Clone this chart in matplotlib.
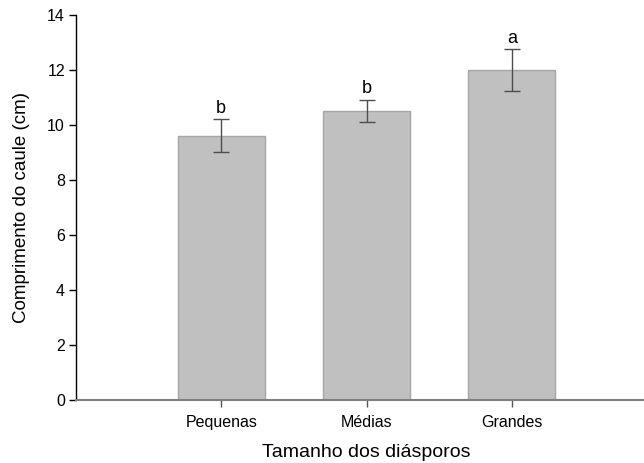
import matplotlib
matplotlib.use("Agg")
import matplotlib.pyplot as plt

categories = ["Pequenas", "Médias", "Grandes"]
means = [9.6, 10.5, 12.0]
errors = [0.6, 0.4, 0.75]
letters = ["b", "b", "a"]
yticks = [0, 2, 4, 6, 8, 10, 12, 14]

plt.rcParams["font.family"] = ["Liberation Sans", "DejaVu Sans"]

W, H = 644, 463
fig = plt.figure(figsize=(W / 100, H / 100), dpi=100)
# the axes run slightly past the right edge of the figure
ax = fig.add_axes([76 / W, (H - 399.5) / H, (657 - 76) / W, (399.5 - 15) / H])

x = list(range(len(categories)))
ax.bar(x, means, width=0.6, color="#c0c0c0", edgecolor="#a6a6a6", linewidth=1.0, zorder=2)
ax.errorbar(x, means, yerr=errors, fmt="none", ecolor="#4d4d4d", elinewidth=1.0,
            capsize=6, capthick=1.0, zorder=3)
for xi, m, e, lab in zip(x, means, errors, letters):
    ax.annotate(lab, (xi, m + e), xytext=(0, 2), textcoords="offset points",
                ha="center", va="bottom", fontsize=13)

ax.set_xlim(-1.0, 3.0)
ax.set_ylim(0, 14)
ax.set_yticks(yticks)
ax.set_xticks(x)
ax.set_xticklabels(categories, fontsize=11.5)
ax.tick_params(axis="y", labelsize=11.5, length=5, width=1, color="black", pad=3)
ax.tick_params(axis="x", length=5, width=1, color="#555555", pad=6)

for side in ("top", "right"):
    ax.spines[side].set_visible(False)
ax.spines["left"].set_color("black")
ax.spines["left"].set_linewidth(1.0)
ax.spines["bottom"].set_color("#7f7f7f")
ax.spines["bottom"].set_linewidth(1.5)

ax.set_xlabel("Tamanho dos diásporos", fontsize=14, labelpad=10)
ax.set_ylabel("Comprimento do caule (cm)", fontsize=13.5, labelpad=12)

fig.savefig("out.png", dpi=100)
